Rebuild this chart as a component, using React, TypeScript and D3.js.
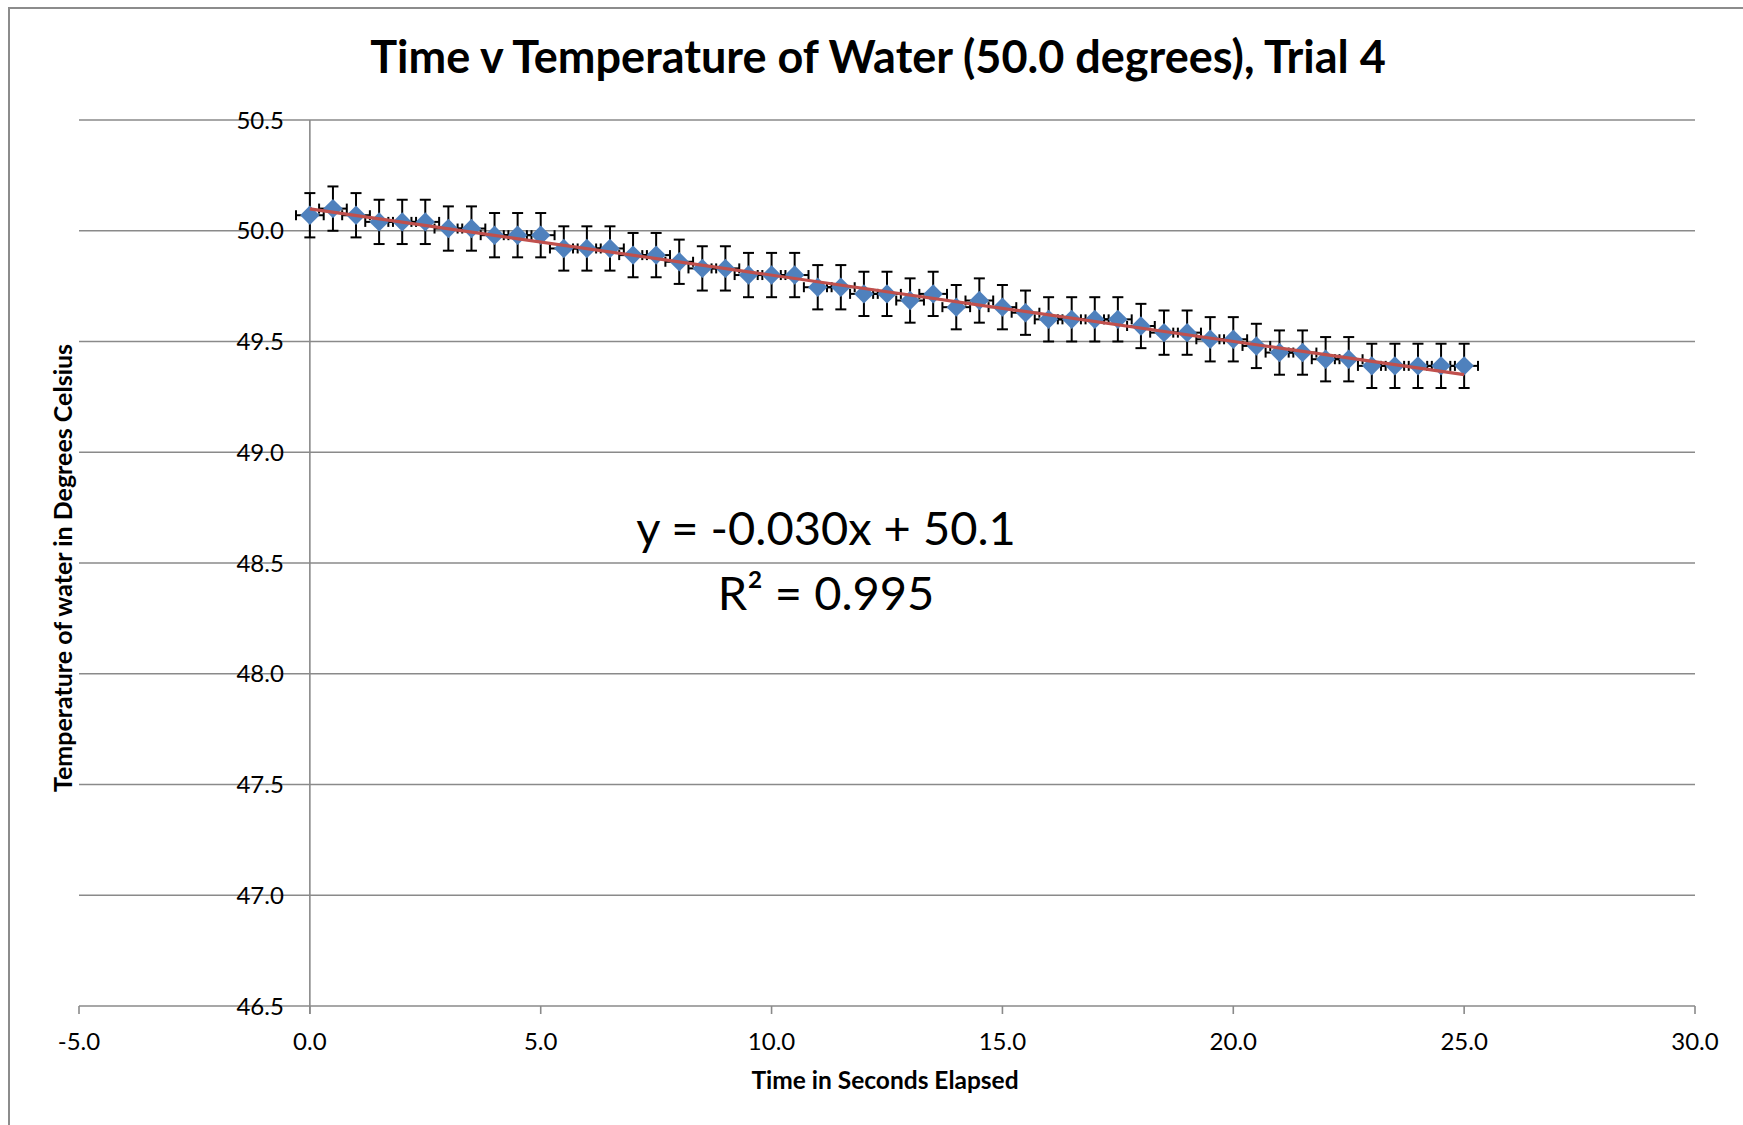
import React from "react";
import * as d3 from "d3";

const times: number[] = [
  0, 0.5, 1, 1.5, 2, 2.5, 3, 3.5, 4, 4.5, 5, 5.5, 6, 6.5, 7, 7.5, 8, 8.5, 9, 9.5,
  10, 10.5, 11, 11.5, 12, 12.5, 13, 13.5, 14, 14.5, 15, 15.5, 16, 16.5, 17, 17.5,
  18, 18.5, 19, 19.5, 20, 20.5, 21, 21.5, 22, 22.5, 23, 23.5, 24, 24.5, 25,
];
const temps: number[] = [
  50.07, 50.1, 50.07, 50.04, 50.04, 50.04, 50.01, 50.01, 49.98, 49.98, 49.98,
  49.92, 49.92, 49.92, 49.89, 49.89, 49.86, 49.83, 49.83, 49.8, 49.8, 49.8,
  49.745, 49.745, 49.715, 49.715, 49.685, 49.715, 49.655, 49.685, 49.655, 49.63,
  49.6, 49.6, 49.6, 49.6, 49.57, 49.54, 49.54, 49.51, 49.51, 49.48, 49.45, 49.45,
  49.42, 49.42, 49.39, 49.39, 49.39, 49.39, 49.39,
];
const yErr = 0.1;
const xErr = 0.3;
const xTicks: number[] = [-5, 0, 5, 10, 15, 20, 25, 30];
const yTicks: number[] = [46.5, 47, 47.5, 48, 48.5, 49, 49.5, 50, 50.5];
const titleText = "Time v Temperature of Water (50.0 degrees), Trial 4";
const xLabel = "Time in Seconds Elapsed";
const yLabel = "Temperature of water in Degrees Celsius";
const eqText = "y = -0.030x + 50.1";
const r2Text = "R² = 0.995";

const FONT = "Lato, 'Open Sans', 'Liberation Sans', sans-serif";

export default function App() {
  const W = 1743;
  const H = 1125;
  const x = d3.scaleLinear().domain([-5, 30]).range([79, 1695]);
  const y = d3.scaleLinear().domain([46.5, 50.5]).range([1006, 120]);

  // linear regression for trendline
  const n = times.length;
  const mx = d3.mean(times) as number;
  const my = d3.mean(temps) as number;
  let sxy = 0, sxx = 0;
  for (let i = 0; i < n; i++) {
    sxy += (times[i] - mx) * (temps[i] - my);
    sxx += (times[i] - mx) ** 2;
  }
  const slope = sxy / sxx;
  const icpt = my - slope * mx;
  const x0 = d3.min(times) as number;
  const x1 = d3.max(times) as number;
  const line = d3
    .line<number>()
    .x((d) => x(d))
    .y((d) => y(icpt + slope * d));

  const grid = "#8a8a8a";
  const diamond = d3.symbol().type(d3.symbolDiamond2).size(240)() as string;

  return (
    <svg
      width={W}
      height={H}
      style={{ position: "absolute", left: 0, top: 0, background: "#fff" }}
      fontFamily={FONT}
    >
      <rect x={0} y={0} width={W} height={H} fill="#fff" />
      <rect x={9} y={8} width={W + 50} height={H + 50} fill="none" stroke="#8c8c8c" strokeWidth={2} />

      {/* gridlines */}
      {yTicks.map((t) => (
        <line key={"g" + t} x1={x(-5)} x2={x(30)} y1={y(t)} y2={y(t)} stroke={grid} strokeWidth={1.6} />
      ))}
      {/* y axis at x=0 */}
      <line x1={x(0)} x2={x(0)} y1={y(50.5)} y2={y(46.5) + 8} stroke={grid} strokeWidth={1.6} />
      {/* x ticks */}
      {xTicks.map((t) => (
        <line key={"xt" + t} x1={x(t)} x2={x(t)} y1={y(46.5)} y2={y(46.5) + 8} stroke={grid} strokeWidth={1.6} />
      ))}

      {/* y tick labels */}
      {yTicks.map((t) => (
        <text key={"yl" + t} x={x(0) - 26} y={y(t) + 8.5} textAnchor="end" fontSize={24} fill="#000">
          {t.toFixed(1)}
        </text>
      ))}
      {/* x tick labels */}
      {xTicks.map((t) => (
        <text key={"xl" + t} x={x(t)} y={1050} textAnchor="middle" fontSize={24} fill="#000">
          {t.toFixed(1)}
        </text>
      ))}

      {/* error bars */}
      <g stroke="#000" strokeWidth={2} fill="none">
        {times.map((t, i) => {
          const cx = x(t);
          const cy = y(temps[i]);
          const yt = y(temps[i] + yErr);
          const yb = y(temps[i] - yErr);
          const xl = x(t - xErr);
          const xr = x(t + xErr);
          return (
            <g key={"e" + i}>
              <line x1={cx} x2={cx} y1={yt} y2={yb} />
              <line x1={cx - 5.5} x2={cx + 5.5} y1={yt} y2={yt} />
              <line x1={cx - 5.5} x2={cx + 5.5} y1={yb} y2={yb} />
              <line x1={xl} x2={xr} y1={cy} y2={cy} />
              <line x1={xl} x2={xl} y1={cy - 5} y2={cy + 5} />
              <line x1={xr} x2={xr} y1={cy - 5} y2={cy + 5} />
            </g>
          );
        })}
      </g>

      {/* markers */}
      {times.map((t, i) => (
        <path key={"m" + i} d={diamond} transform={`translate(${x(t)},${y(temps[i])})`} fill="#4f81bd" />
      ))}

      {/* trendline */}
      <path d={line([x0, x1]) as string} stroke="#c0504d" strokeWidth={3.2} fill="none" />

      {/* title */}
      <text x={878} y={73} textAnchor="middle" fontSize={45} fontWeight="bold" fill="#000">
        {titleText}
      </text>

      {/* equation */}
      <text x={826} y={545} textAnchor="middle" fontSize={47} fill="#000">
        {eqText}
      </text>
      <text x={826} y={610} textAnchor="middle" fontSize={47} fill="#000">
        {r2Text}
      </text>

      {/* axis labels */}
      <text x={885} y={1089} textAnchor="middle" fontSize={24.5} fontWeight="bold" fill="#000">
        {xLabel}
      </text>
      <text
        transform={`translate(72,568) rotate(-90)`}
        textAnchor="middle"
        fontSize={25}
        fontWeight="bold"
        fill="#000"
      >
        {yLabel}
      </text>
    </svg>
  );
}
